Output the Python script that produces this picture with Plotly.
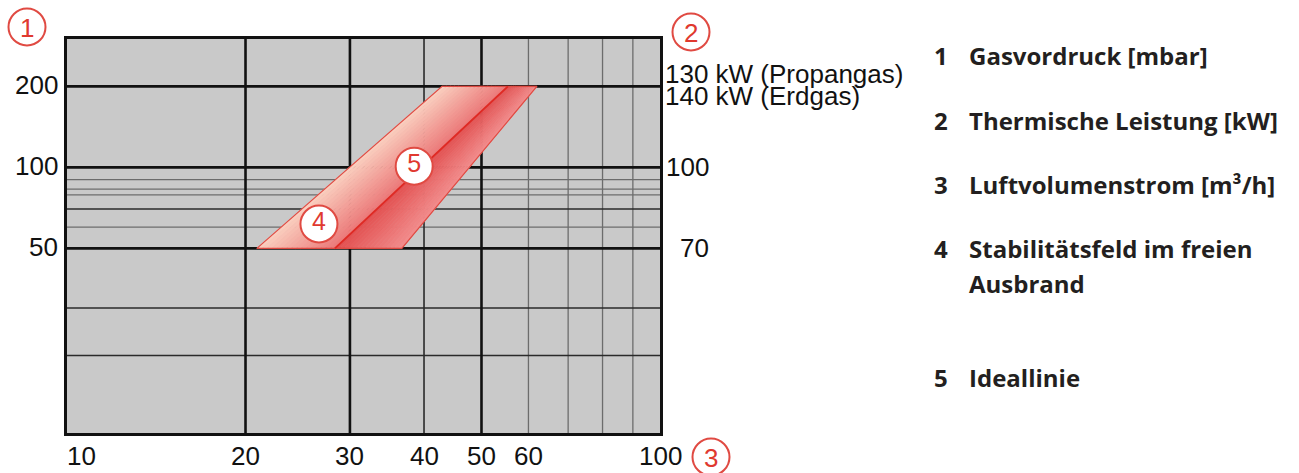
import math
import plotly.graph_objects as go

# ---------------- data ----------------
x_axis_range = [10, 100]          # Luftvolumenstrom [m3/h]
y_axis_range = [10.3, 300]        # Gasvordruck [mbar]

x_grid_major = [20, 30, 50]
x_grid_medium = [40]
x_grid_minor = [60, 70, 80, 90]
y_grid_major = [50, 100, 200]
y_grid_medium = [20, 30, 70]
y_grid_minor = [60, 79, 83, 90]

x_tick_vals = [10, 20, 30, 40, 50, 60, 100]
x_tick_text = ["10", "20", "30", "40", "50", "60", "100"]
y_tick_vals = [10, 50, 100, 200]
y_tick_text = ["10", "50", "100", "200"]

power_label_y = [100, 50]
power_label_text = ["100", "70"]
power_top_y = 200
power_top_text = ["130 kW (Propangas)", "140 kW (Erdgas)"]

band_y = [50, 200]
band_left_x = [20.9, 42.9]
ideal_x = [28.3, 55.4]
band_right_x = [36.7, 62.0]

callout_text = ["4", "5"]
callout_x = [26.6, 38.5]
callout_y = [61.6, 101]

legend_numbers = ["1", "2", "3", "4", "5"]
legend_lines = [["Gasvordruck [mbar]"],
                ["Thermische Leistung [kW]"],
                ["Luftvolumenstrom [m³/h]"],
                ["Stabilitätsfeld im freien", "Ausbrand"],
                ["Ideallinie"]]

axis_markers = ["1", "2", "3"]

# ---------------- layout helpers ----------------
W, H = 1299, 473
PL, PT, PW, PH = 67, 39, 593, 394


def px(xp):
    return (xp - PL) / PW


def py(yp):
    return (PT + PH - yp) / PH


RED = "#e0392f"
RED_LINE = "#e04a42"
TXT_FONT = "Liberation Sans"
AX_FONT = dict(family=TXT_FONT, size=26, color="#111")

fig = go.Figure()


def add_grid(vals, orient, width, color):
    xs, ys = [], []
    for v in vals:
        if orient == "v":
            xs += [v, v, None]
            ys += [y_axis_range[0], y_axis_range[1], None]
        else:
            xs += [x_axis_range[0], x_axis_range[1], None]
            ys += [v, v, None]
    fig.add_trace(go.Scatter(x=xs, y=ys, mode="lines",
                             line=dict(color=color, width=width),
                             hoverinfo="skip", showlegend=False))


add_grid(x_grid_minor, "v", 1.3, "#6c6c6c")
add_grid(y_grid_minor, "h", 1.3, "#6c6c6c")
add_grid(x_grid_medium, "v", 1.6, "#2a2a2a")
add_grid(y_grid_medium, "h", 1.6, "#2a2a2a")
add_grid(x_grid_major, "v", 2.6, "#111111")
add_grid(y_grid_major, "h", 2.6, "#111111")


# ---------------- band with gradient (strips) ----------------
def lerp_log(a, b, t):
    return 10 ** (math.log10(a) + (math.log10(b) - math.log10(a)) * t)


def mix(c1, c2, t):
    return "rgb(%d,%d,%d)" % tuple(round(c1[i] + (c2[i] - c1[i]) * t) for i in range(3))


N = 16
sides = [(band_left_x, ideal_x, (250, 208, 192), (236, 120, 120)),
         (ideal_x, band_right_x, (226, 80, 80), (242, 140, 140))]
for xa, xb, ca, cb in sides:
    for k in range(N):
        t0, t1 = k / N, (k + 1) / N
        xs = [lerp_log(xa[0], xb[0], t0), lerp_log(xa[1], xb[1], t0),
              lerp_log(xa[1], xb[1], t1), lerp_log(xa[0], xb[0], t1)]
        xs.append(xs[0])
        ys = [band_y[0], band_y[1], band_y[1], band_y[0], band_y[0]]
        col = mix(ca, cb, (k + 0.5) / N)
        fig.add_trace(go.Scatter(x=xs, y=ys, mode="lines", fill="toself",
                                 fillcolor=col, line=dict(color=col, width=0.8),
                                 hoverinfo="skip", showlegend=False))

# band outline
fig.add_trace(go.Scatter(
    x=[band_left_x[0], band_left_x[1], band_right_x[1], band_right_x[0], band_left_x[0]],
    y=[band_y[0], band_y[1], band_y[1], band_y[0], band_y[0]],
    mode="lines", line=dict(color=RED_LINE, width=1.2),
    hoverinfo="skip", showlegend=False))

# ideal line
fig.add_trace(go.Scatter(x=ideal_x, y=band_y, mode="lines",
                         line=dict(color="#df2a24", width=2),
                         hoverinfo="skip", showlegend=False))

# callouts 4 / 5
fig.add_trace(go.Scatter(
    x=callout_x, y=callout_y, mode="markers+text", text=callout_text,
    textposition="middle center",
    textfont=dict(family=TXT_FONT, size=25, color=RED),
    marker=dict(size=37, color="white", line=dict(color=RED_LINE, width=2)),
    hoverinfo="skip", showlegend=False))

annotations = []
shapes = []

# left tick labels (Gasvordruck)
for v, t in zip(y_tick_vals, y_tick_text):
    annotations.append(dict(
        text=t, xref="paper", x=px(60), xanchor="right",
        yref="y", y=math.log10(v), yanchor="middle",
        yshift=10 if v < y_axis_range[0] else 1,
        showarrow=False, font=AX_FONT))

# bottom tick labels (Luftvolumenstrom)
for v, t in zip(x_tick_vals, x_tick_text):
    first = v <= x_axis_range[0]
    annotations.append(dict(
        text=t, xref="x", x=math.log10(v), xanchor="left" if first else "center",
        xshift=-2 if first else 0,
        yref="paper", y=py(456), yanchor="middle",
        showarrow=False, font=AX_FONT))

# right labels (Thermische Leistung)
for i, t in enumerate(power_top_text):
    annotations.append(dict(
        text=t, xref="paper", x=px(663), xanchor="left",
        yref="y", y=math.log10(power_top_y), yanchor="middle",
        yshift=12 if i == 0 else -10,
        showarrow=False, font=dict(family=TXT_FONT, size=26, color="#111")))
for v, t in zip(power_label_y, power_label_text):
    annotations.append(dict(
        text=t, xref="paper", x=px(711), xanchor="right",
        yref="y", y=math.log10(v), yanchor="middle",
        showarrow=False, font=AX_FONT))

# circled axis markers 1,2,3
marker_centers = [(27, 27), (691, 32), (711, 457)]
R = 18.5
for t, (cx, cy) in zip(axis_markers, marker_centers):
    shapes.append(dict(type="circle", xref="paper", yref="paper",
                       x0=px(cx - R), x1=px(cx + R), y0=py(cy + R), y1=py(cy - R),
                       line=dict(color=RED_LINE, width=2), fillcolor="white",
                       layer="above"))
    annotations.append(dict(text=t, xref="paper", yref="paper",
                            x=px(cx), y=py(cy + 1), xanchor="center", yanchor="middle",
                            showarrow=False,
                            font=dict(family=TXT_FONT, size=26, color=RED)))

# legend text on the right
legend_y = [56, 120, 184, 248, 377]
LEG_FONT = dict(family="Open Sans", size=24, color="#231f20", weight=700)
for num, lines, yc in zip(legend_numbers, legend_lines, legend_y):
    annotations.append(dict(text=num, xref="paper", x=px(932), xanchor="left",
                            yref="paper", y=py(yc), yanchor="middle",
                            showarrow=False, font=LEG_FONT))
    for j, ln in enumerate(lines):
        annotations.append(dict(text=ln, xref="paper", x=px(967), xanchor="left",
                                yref="paper", y=py(yc + 35 * j), yanchor="middle",
                                showarrow=False, font=LEG_FONT))

fig.update_layout(
    width=W, height=H, autosize=False,
    margin=dict(l=PL, r=W - PL - PW, t=PT, b=H - PT - PH, pad=0),
    paper_bgcolor="white", plot_bgcolor="#c9c9c9",
    showlegend=False,
    annotations=annotations, shapes=shapes,
    xaxis=dict(type="log", range=[math.log10(x_axis_range[0]), math.log10(x_axis_range[1])],
               showgrid=False, zeroline=False, showticklabels=False, ticks="",
               showline=True, mirror=True, linecolor="#111", linewidth=2.5,
               fixedrange=True),
    yaxis=dict(type="log", range=[math.log10(y_axis_range[0]), math.log10(y_axis_range[1])],
               showgrid=False, zeroline=False, showticklabels=False, ticks="",
               showline=True, mirror=True, linecolor="#111", linewidth=2.5,
               fixedrange=True),
)

fig.write_html(
    "out.html",
    config={"displayModeBar": False},
    post_script="document.body.style.margin='0';document.body.style.padding='0';"
                "document.body.style.overflow='hidden';",
)
